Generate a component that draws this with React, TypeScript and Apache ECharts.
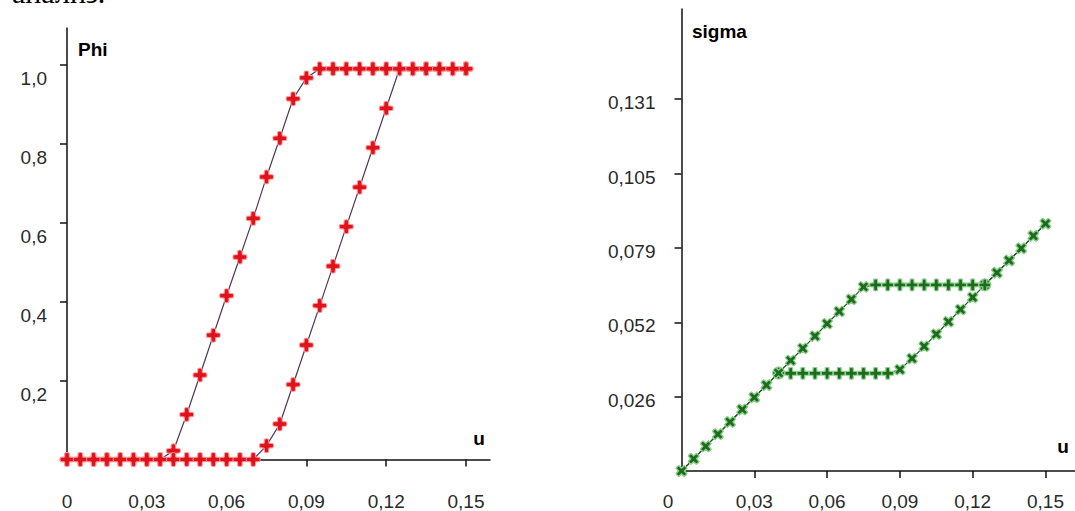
import React, { useEffect, useRef } from "react";
import * as echarts from "echarts";

// ---- data ----
const uValues = [
  0, 0.005, 0.01, 0.015, 0.02, 0.025, 0.03, 0.035, 0.04, 0.045, 0.05, 0.055, 0.06, 0.065, 0.07,
  0.075, 0.08, 0.085, 0.09, 0.095, 0.1, 0.105, 0.11, 0.115, 0.12, 0.125, 0.13, 0.135, 0.14, 0.145, 0.15,
];
const phiLoading = [
  0, 0, 0, 0, 0, 0, 0, 0, 0, 0, 0, 0, 0, 0, 0,
  0.035, 0.09, 0.19, 0.29, 0.39, 0.49, 0.59, 0.69, 0.79, 0.89, 0.99, 0.99, 0.99, 0.99, 0.99, 0.99,
];
const phiUnloading = [
  0, 0, 0, 0, 0, 0, 0, 0, 0.022, 0.114, 0.214, 0.315, 0.415, 0.513, 0.611,
  0.716, 0.814, 0.914, 0.967, 0.99, 0.99, 0.99, 0.99, 0.99, 0.99, 0.99, 0.99, 0.99, 0.99, 0.99, 0.99,
];
const sigmaLoading = [
  0, 0.0043, 0.0087, 0.013, 0.0173, 0.0217, 0.026, 0.0303, 0.0346, 0.039, 0.0433, 0.0476, 0.052, 0.0563, 0.0606,
  0.065, 0.0657, 0.0657, 0.0657, 0.0657, 0.0657, 0.0657, 0.0657, 0.0657, 0.0657, 0.0657, 0.07, 0.0743, 0.0786, 0.083, 0.0873,
];
const sigmaUnloading = [
  0, 0.0043, 0.0087, 0.013, 0.0173, 0.0217, 0.026, 0.0303, 0.0346, 0.0345, 0.0345, 0.0345, 0.0345, 0.0345, 0.0345,
  0.0345, 0.0345, 0.0345, 0.0358, 0.0397, 0.044, 0.0483, 0.0527, 0.057, 0.0613, 0.0657, 0.07, 0.0743, 0.0786, 0.083, 0.0873,
];

const xTicks = [0, 0.03, 0.06, 0.09, 0.12, 0.15];
const xTickLabels = ["0", "0,03", "0,06", "0,09", "0,12", "0,15"];
const xTicksRight = [0.03, 0.06, 0.09, 0.12, 0.15];
const phiTicks = [0.2, 0.4, 0.6, 0.8, 1.0];
const phiTickLabels = ["0,2", "0,4", "0,6", "0,8", "1,0"];
const sigmaTicks = [0.02625, 0.0525, 0.07875, 0.105, 0.13125];
const sigmaTickLabels = ["0,026", "0,052", "0,079", "0,105", "0,131"];

const lookup = (ticks: number[], labels: string[]) => (v: number) => {
  let best = 0;
  for (let i = 0; i < ticks.length; i++) if (Math.abs(ticks[i] - v) < Math.abs(ticks[best] - v)) best = i;
  return labels[best];
};

const PLUS =
  "path://M4.2,0.5 Q6,-0.3 7.8,0.5 L8,4 L11.5,4.2 Q12.3,6 11.5,7.8 L8,8 L7.8,11.5 Q6,12.3 4.2,11.5 L4,8 L0.5,7.8 Q-0.3,6 0.5,4.2 L4,4 Z";

const rotFor = (vals: number[]) => (_v: any, p: any) => {
  const i = p.dataIndex;
  const prevFlat = i > 0 && Math.abs(vals[i] - vals[i - 1]) < 1e-4;
  const nextFlat = i < vals.length - 1 && Math.abs(vals[i + 1] - vals[i]) < 1e-4;
  return prevFlat || nextFlat ? 0 : 45;
};

const FONT = "'Liberation Sans', Arial, sans-serif";
const LABEL_COLOR = "#2a2a2a";

export default function App() {
  const ref = useRef<HTMLDivElement>(null);
  useEffect(() => {
    if (!ref.current) return;
    const chart = echarts.init(ref.current, undefined, { renderer: "svg" });
    const axisLine = { show: true, lineStyle: { color: "#111", width: 1.5 } };
    const axisTick = (vals: number[]) => ({
      show: true,
      length: 7,
      inside: false,
      customValues: vals,
      lineStyle: { color: "#111", width: 1.5 },
    });
    const redSeries = (data: number[]) => ({
      type: "line",
      xAxisIndex: 0,
      yAxisIndex: 0,
      data: uValues.map((u, i) => [u, data[i]]),
      symbol: PLUS,
      symbolSize: 14,
      showAllSymbol: true,
      lineStyle: { color: "#4a3a55", width: 1.2 },
      itemStyle: { color: "#e0121c", borderColor: "#ff9a9a", borderWidth: 1 },
    });
    const greenSeries = (data: number[]) => ({
      type: "line",
      xAxisIndex: 1,
      yAxisIndex: 1,
      data: uValues.map((u, i) => [u, data[i]]),
      symbol: PLUS,
      symbolSize: 12,
      symbolRotate: rotFor(data),
      showAllSymbol: true,
      lineStyle: { color: "#1f5a1f", width: 1.2 },
      itemStyle: { color: "#1d6b1d", borderColor: "#8fd08f", borderWidth: 1.2 },
    });
    chart.setOption({
      animation: false,
      backgroundColor: "#fff",
      grid: [
        { left: 67, top: 28, width: 423, height: 436 },
        { left: 681.5, top: 9, width: 400, height: 462 },
      ],
      xAxis: [
        {
          type: "value",
          gridIndex: 0,
          min: 0,
          max: 0.15902,
          splitLine: { show: false },
          axisLine,
          axisTick: axisTick(xTicks),
          axisLabel: {
            customValues: xTicks,
            formatter: lookup(xTicks, xTickLabels),
            margin: 42,
            verticalAlign: "middle",
            fontFamily: FONT,
            fontSize: 19,
            color: LABEL_COLOR,
          },
        },
        {
          type: "value",
          gridIndex: 1,
          min: 0,
          max: 0.16216,
          splitLine: { show: false },
          axisLine,
          axisTick: axisTick(xTicksRight),
          axisLabel: {
            customValues: xTicksRight,
            formatter: lookup(xTicks, xTickLabels),
            margin: 30,
            verticalAlign: "middle",
            fontFamily: FONT,
            fontSize: 19,
            color: LABEL_COLOR,
          },
        },
      ],
      yAxis: [
        {
          type: "value",
          gridIndex: 0,
          min: 0,
          max: 1.0934,
          splitLine: { show: false },
          axisLine,
          axisTick: axisTick(phiTicks),
          axisLabel: {
            customValues: phiTicks,
            formatter: lookup(phiTicks, phiTickLabels),
            margin: 20,
            verticalAlign: "top",
            lineHeight: 27,
            fontFamily: FONT,
            fontSize: 19,
            color: LABEL_COLOR,
          },
        },
        {
          type: "value",
          gridIndex: 1,
          min: 0,
          max: 0.16311,
          splitLine: { show: false },
          axisLine,
          axisTick: axisTick(sigmaTicks),
          axisLabel: {
            customValues: sigmaTicks,
            formatter: lookup(sigmaTicks, sigmaTickLabels),
            margin: 26,
            verticalAlign: "top",
            lineHeight: 7,
            fontFamily: FONT,
            fontSize: 19,
            color: LABEL_COLOR,
          },
        },
      ],
      graphic: [
        {
          type: "text",
          x: 12,
          y: -7.5,
          style: {
            text: "анализ.",
            font: "30px 'Liberation Serif', 'Times New Roman', serif",
            fill: "#000",
            verticalAlign: "middle",
          },
        },
        {
          type: "text",
          x: 78,
          y: 49,
          style: { text: "Phi", font: `bold 19px ${FONT}`, fill: "#000", verticalAlign: "middle" },
        },
        {
          type: "text",
          x: 479,
          y: 438.5,
          style: { text: "u", font: `bold 19px ${FONT}`, fill: "#000", align: "center", verticalAlign: "middle" },
        },
        {
          type: "text",
          x: 692,
          y: 31.5,
          style: { text: "sigma", font: `bold 19px ${FONT}`, fill: "#000", verticalAlign: "middle" },
        },
        {
          type: "text",
          x: 1063,
          y: 446.5,
          style: { text: "u", font: `bold 19px ${FONT}`, fill: "#000", align: "center", verticalAlign: "middle" },
        },
        {
          type: "text",
          x: 668,
          y: 501,
          style: { text: "0", font: `19px ${FONT}`, fill: LABEL_COLOR, align: "center", verticalAlign: "middle" },
        },
      ],
      series: [
        redSeries(phiUnloading),
        redSeries(phiLoading),
        greenSeries(sigmaUnloading),
        greenSeries(sigmaLoading),
      ],
    });
    return () => chart.dispose();
  }, []);
  return (
    <div
      ref={ref}
      style={{ position: "absolute", left: 0, top: 0, width: 1075, height: 511 }}
    />
  );
}
